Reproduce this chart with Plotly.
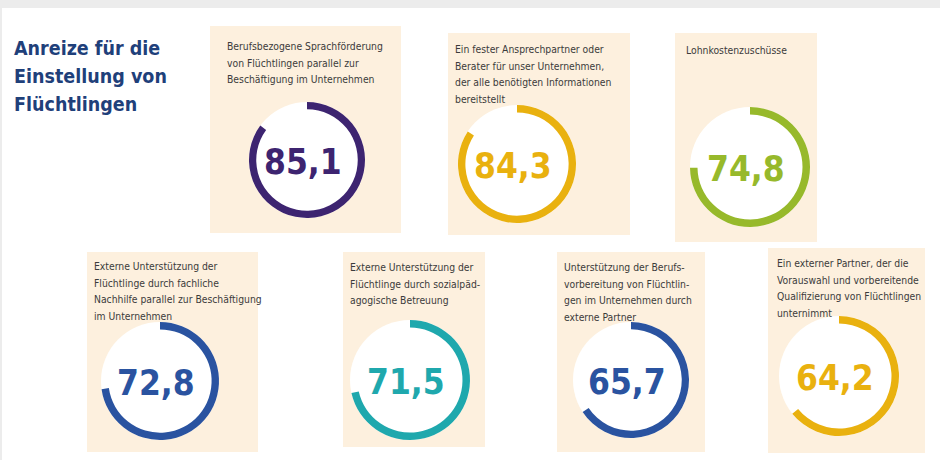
import plotly.graph_objects as go

# ---- data ----
labels = [
    ["Berufsbezogene Sprachförderung", "von Flüchtlingen parallel zur", "Beschäftigung im Unternehmen"],
    ["Ein fester Ansprechpartner oder", "Berater für unser Unternehmen,", "der alle benötigten Informationen", "bereitstellt"],
    ["Lohnkostenzuschüsse"],
    ["Externe Unterstützung der", "Flüchtlinge durch fachliche", "Nachhilfe parallel zur Beschäftigung", "im Unternehmen"],
    ["Externe Unterstützung der", "Flüchtlinge durch sozialpäd-", "agogische Betreuung"],
    ["Unterstützung der Berufs-", "vorbereitung von Flüchtlin-", "gen im Unternehmen durch", "externe Partner"],
    ["Ein externer Partner, der die", "Vorauswahl und vorbereitende", "Qualifizierung von Flüchtlingen", "unternimmt"],
]
values = [85.1, 84.3, 74.8, 72.8, 71.5, 65.7, 64.2]
colors = ["#3d2470", "#e9b10f", "#97b92b", "#2a53a0", "#1fa8ad", "#2a53a0", "#e9b10f"]
title_lines = ["Anreize für die", "Einstellung von", "Flüchtlingen"]

# ---- layout geometry (pixels) ----
W, H = 940, 460
cards = [(210, 26, 401, 233), (448, 33, 630, 235), (675, 33, 817, 242),
         (87, 252, 258, 452), (343, 252, 485, 447), (557, 252, 705, 452), (768, 248, 925, 453)]
rings = [(307, 160, 58), (517, 164, 59), (750, 167, 60),
         (160, 381, 59), (410, 380, 60), (631, 380, 58), (839, 376, 60)]
text_pos = [(225, 46), (453, 49), (684, 50), (92, 266), (348, 267), (562, 267), (775, 263)]
LINE = 16.7
FONT = "DejaVu Sans Condensed"

fig = go.Figure()
shapes = []
annotations = []

shapes.append(dict(type="rect", xref="x", yref="y", x0=0, x1=W, y0=0, y1=8,
                   fillcolor="#ececec", line_width=0, layer="below"))
shapes.append(dict(type="rect", xref="x", yref="y", x0=0, x1=2, y0=0, y1=H,
                   fillcolor="#ececec", line_width=0, layer="below"))

for i, (lab, v, c) in enumerate(zip(labels, values, colors)):
    x0, y0, x1, y1 = cards[i]
    shapes.append(dict(type="rect", xref="x", yref="y", x0=x0, x1=x1, y0=y0, y1=y1,
                       fillcolor="#fdf0de", line_width=0, layer="below"))
    cx, cy, r = rings[i]
    shapes.append(dict(type="circle", xref="x", yref="y", x0=cx - r, x1=cx + r,
                       y0=cy - r, y1=cy + r, fillcolor="#ffffff", line_width=0, layer="below"))
    fig.add_trace(go.Pie(
        values=[v, 100 - v], sort=False, direction="clockwise", rotation=0,
        hole=0.875, marker=dict(colors=[c, "rgba(255,255,255,0)"], line=dict(width=0)),
        textinfo="none", hoverinfo="skip", showlegend=False,
        domain=dict(x=[(cx - r) / W, (cx + r) / W], y=[1 - (cy + r) / H, 1 - (cy - r) / H]),
    ))
    annotations.append(dict(x=cx - 4, y=cy + 2, xref="x", yref="y", text=f"{v:.1f}".replace(".", ","),
                            showarrow=False, xanchor="center", yanchor="middle",
                            font=dict(family=FONT, size=35, color=c, weight="bold")))
    tx, ty = text_pos[i]
    for k, line in enumerate(lab):
        annotations.append(dict(x=tx, y=ty + k * LINE, xref="x", yref="y", text=line, showarrow=False,
                                xanchor="left", yanchor="middle", align="left",
                                font=dict(family=FONT, size=10.3, color="#3b3b3b")))

for k, line in enumerate(title_lines):
    annotations.append(dict(x=12, y=48 + k * 28, xref="x", yref="y", text=line, showarrow=False,
                            xanchor="left", yanchor="middle", align="left",
                            font=dict(family=FONT, size=19.5, color="#1f407a", weight="bold")))

fig.update_layout(
    width=W, height=H, margin=dict(l=0, r=0, t=0, b=0),
    paper_bgcolor="#ffffff", plot_bgcolor="#ffffff",
    xaxis=dict(range=[0, W], visible=False, fixedrange=True),
    yaxis=dict(range=[H, 0], visible=False, fixedrange=True),
    shapes=shapes, annotations=annotations,
)
fig.write_html("out.html", config={"displayModeBar": False},
               post_script="document.body.style.margin='0';document.body.style.padding='0';")
